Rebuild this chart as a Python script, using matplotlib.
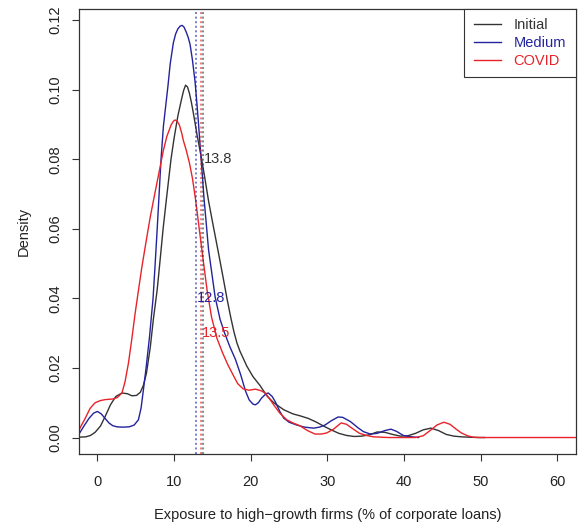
import matplotlib
matplotlib.use("Agg")
import matplotlib.pyplot as plt

# ── Density curves (x = exposure %, y = density) ─────────────────────────────
initial_x = [-2.4, -1.5, -0.9, -0.3, 0.4, 1.0, 1.7, 2.4, 3.2, 3.9, 4.5, 5.1,
             5.6, 6.0, 6.4, 6.9, 7.3, 7.8, 8.2, 8.57, 9.0, 9.6, 10.0, 10.5,
             10.8, 11.0, 11.25, 11.5, 11.75, 12.0, 12.25, 12.5, 12.75, 13.0,
             13.3, 13.6, 14.0, 14.5, 15.1, 15.8, 16.4, 16.9, 17.4, 17.8, 18.2,
             18.6, 19.5, 20.3, 21.2, 22.1, 23.0, 24.3, 25.5, 26.5, 27.5, 28.5,
             29.5, 30.5, 31.5, 32.5, 33.5, 34.5, 35.5, 36.5, 37.5, 38.5, 39.5,
             40.5, 41.5, 42.5, 43.5, 44.5, 45.5, 46.5, 47.5, 48.5, 49.5, 50.5]
initial_y = [0.0001, 0.0002, 0.0006, 0.0015, 0.0033, 0.0060, 0.0094, 0.0118,
             0.0128, 0.0126, 0.0120, 0.0121, 0.0130, 0.0150, 0.0185, 0.0260,
             0.0340, 0.0425, 0.0515, 0.0600, 0.0685, 0.0800, 0.0860, 0.0925,
             0.0955, 0.0975, 0.0998, 0.1013, 0.1008, 0.0990, 0.0965, 0.0935,
             0.0903, 0.0870, 0.0835, 0.0800, 0.0748, 0.0680, 0.0610, 0.0530,
             0.0460, 0.0400, 0.0345, 0.0305, 0.0272, 0.0248, 0.0205, 0.0175,
             0.0150, 0.0120, 0.0100, 0.0080, 0.0068, 0.0062, 0.0055, 0.0045,
             0.0033, 0.0022, 0.0012, 0.0006, 0.0003, 0.0004, 0.0008, 0.0016,
             0.0015, 0.0009, 0.0004, 0.0005, 0.0012, 0.0022, 0.0027, 0.0020,
             0.0009, 0.0004, 0.0002, 0.0001, 0.0000, 0.0000]

medium_x = [-2.4, -1.7, -1.1, -0.5, 0.0, 0.5, 1.0, 1.5, 2.0, 2.5, 3.0, 3.6,
            4.2, 4.8, 5.35, 5.7, 6.0, 6.35, 6.8, 7.26, 7.55, 7.8, 8.05, 8.3,
            8.61, 9.2, 9.5, 9.91, 10.2, 10.5, 10.8, 11.05, 11.3, 11.6, 11.85,
            12.09, 12.4, 12.74, 13.0, 13.17, 13.5, 13.9, 14.5, 15.35, 16.0,
            16.6, 17.3, 18.0, 18.7, 19.3, 19.8, 20.3, 20.6, 21.0, 21.4, 22.0,
            22.3, 22.8, 23.2, 23.8, 24.3, 25.0, 26.0, 27.0, 28.2, 29.0, 29.7,
            30.5, 31.4, 32.0, 33.0, 34.0, 34.7, 35.6, 36.5, 37.5, 38.3, 39.0,
            39.9, 40.6, 41.9]
medium_y = [0.0010, 0.0035, 0.0055, 0.0070, 0.0075, 0.0068, 0.0055, 0.0042,
            0.0034, 0.0031, 0.0030, 0.0030, 0.0031, 0.0036, 0.0051, 0.0085,
            0.0137, 0.0200, 0.0290, 0.0400, 0.0505, 0.0600, 0.0700, 0.0800,
            0.0895, 0.1010, 0.1075, 0.1135, 0.1160, 0.1175, 0.1183, 0.1185,
            0.1180, 0.1165, 0.1150, 0.1130, 0.1085, 0.1023, 0.0955, 0.0908,
            0.0810, 0.0690, 0.0540, 0.0405, 0.0340, 0.0300, 0.0260, 0.0225,
            0.0180, 0.0135, 0.0108, 0.0096, 0.0094, 0.0100, 0.0113, 0.0126,
            0.0128, 0.0118, 0.0103, 0.0075, 0.0056, 0.0044, 0.0036, 0.0030,
            0.0027, 0.0030, 0.0036, 0.0048, 0.0059, 0.0058, 0.0046, 0.0028,
            0.0017, 0.0010, 0.0012, 0.0020, 0.0024, 0.0018, 0.0006, 0.0003,
            0.0000]

covid_x = [-2.4, -1.6, -0.95, -0.3, 0.35, 1.0, 1.6, 2.1, 2.6, 3.2, 3.6, 4.05,
           4.5, 4.92, 5.4, 5.8, 6.4, 6.9, 7.3, 7.7, 8.2, 8.6, 9.05, 9.6, 9.9,
           10.13, 10.4, 10.7, 11.0, 11.2, 11.6, 12.0, 12.4, 12.8, 13.2, 13.8,
           14.3, 14.9, 15.6, 16.3, 17.0, 17.7, 18.3, 19.0, 19.8, 20.6, 21.3,
           21.9, 22.5, 23.0, 23.8, 24.7, 25.5, 26.4, 27.4, 28.4, 29.2, 29.9,
           30.8, 31.8, 32.5, 33.0, 34.2, 35.1, 36.0, 37.0, 38.0, 41.5, 42.5,
           43.4, 44.3, 45.2, 46.0, 46.8, 47.5, 48.3, 49.0, 50.0, 62.4]
covid_y = [0.0022, 0.0055, 0.0084, 0.0100, 0.0106, 0.0109, 0.0110, 0.0111,
           0.0115, 0.0128, 0.0160, 0.0214, 0.0285, 0.0357, 0.0430, 0.0490,
           0.0570, 0.0635, 0.0680, 0.0725, 0.0780, 0.0825, 0.0865, 0.0898,
           0.0909, 0.0913, 0.0910, 0.0898, 0.0875, 0.0855, 0.0825, 0.0790,
           0.0745, 0.0685, 0.0615, 0.0510, 0.0425, 0.0345, 0.0285, 0.0245,
           0.0210, 0.0180, 0.0155, 0.0140, 0.0136, 0.0139, 0.0135, 0.0128,
           0.0110, 0.0094, 0.0070, 0.0051, 0.0042, 0.0034, 0.0020, 0.0010,
           0.0010, 0.0013, 0.0024, 0.0042, 0.0038, 0.0030, 0.0012, 0.0006,
           0.0002, 0.0001, 0.0000, 0.0000, 0.0005, 0.0020, 0.0036, 0.0044,
           0.0038, 0.0024, 0.0013, 0.0005, 0.0001, 0.0000, 0.0000]

series_names = ["Initial", "Medium", "COVID"]
medians = [13.8, 12.8, 13.5]
median_label_y = [0.080, 0.040, 0.030]

x_ticks = [0, 10, 20, 30, 40, 50, 60]
y_ticks = [0.00, 0.02, 0.04, 0.06, 0.08, 0.10, 0.12]

COLORS = {"Initial": "#333333", "Medium": "#23239c", "COVID": "#e8232a"}

STYLE = {
    "font.family": ["Liberation Sans", "DejaVu Sans"],
    "font.size": 10.5,
    "axes.edgecolor": "#333333",
    "axes.linewidth": 0.9,
    "xtick.color": "#333333",
    "ytick.color": "#333333",
    "xtick.labelcolor": "#222222",
    "ytick.labelcolor": "#222222",
}

with plt.rc_context(STYLE):
    fig = plt.figure(figsize=(5.84, 5.27), dpi=100)
    ax = fig.add_axes([0.1353, 0.1385, 0.8505, 0.8444])

    curves = [(initial_x, initial_y), (medium_x, medium_y), (covid_x, covid_y)]
    for name, (xs, ys) in zip(series_names, curves):
        ax.plot(xs, ys, color=COLORS[name], lw=1.0, label=name)

    # dotted median markers with their values
    for name, m, ly in zip(series_names, medians, median_label_y):
        ax.axvline(m, color=COLORS[name], lw=1.1, ls=(0, (1.3, 1.7)), alpha=0.75)
        ax.text(m + 0.15, ly, f"{m}", color=COLORS[name], fontsize=10.5,
                ha="left", va="center")

    ax.set_xlim(-2.4, 62.4)
    ax.set_ylim(-0.00474, 0.1232)
    ax.set_xticks(x_ticks)
    ax.set_yticks(y_ticks)
    ax.set_yticklabels([f"{v:.2f}" for v in y_ticks], rotation=90, va="center")
    ax.tick_params(axis="both", length=5, width=0.8, direction="out")
    ax.tick_params(axis="x", pad=10)
    ax.tick_params(axis="y", pad=7)

    ax.set_xlabel("Exposure to high\u2212growth firms (% of corporate loans)",
                  fontsize=10.5, color="#222222", labelpad=14)
    ax.set_ylabel("Density", fontsize=10.5, color="#222222", labelpad=13)

    leg = ax.legend(loc="upper right", borderaxespad=0, fancybox=False,
                    framealpha=1, edgecolor="#333333", fontsize=10.5,
                    handlelength=1.85, handletextpad=0.9, borderpad=0.65,
                    labelspacing=0.25)
    leg.get_frame().set_linewidth(0.8)
    for txt, name in zip(leg.get_texts(), series_names):
        txt.set_color(COLORS[name])

    fig.savefig("out.png", dpi=100, facecolor="white")
    plt.close(fig)
